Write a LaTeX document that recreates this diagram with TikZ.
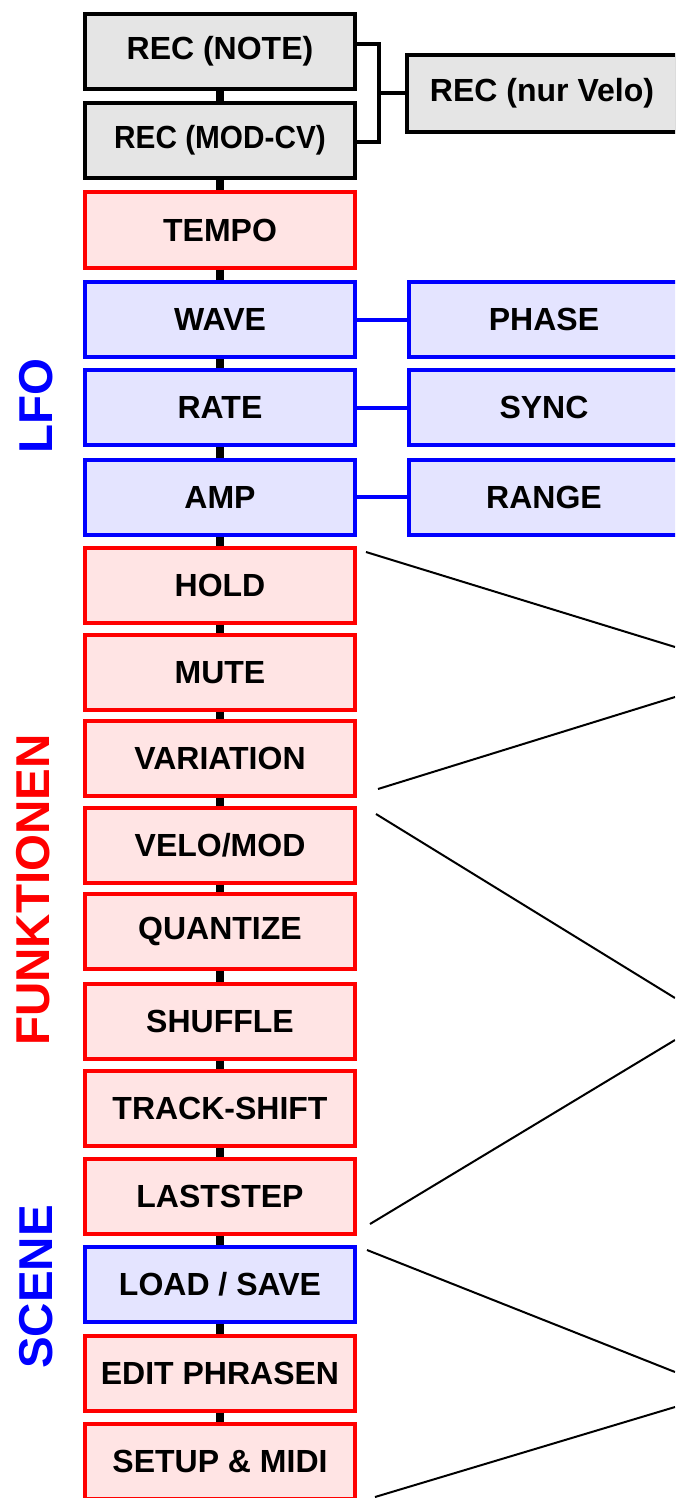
\documentclass[tikz,border=0pt]{standalone}
\usepackage{fontspec}
\setmainfont{Liberation Sans}
\definecolor{menured}{RGB}{255, 0, 0}
\definecolor{menublue}{RGB}{0, 0, 255}
\definecolor{menupink}{RGB}{255, 228, 228}
\definecolor{menulilac}{RGB}{228, 228, 255}
\definecolor{menugray}{RGB}{229, 229, 229}
\usepackage{tikz}

\begin{document}
\begin{tikzpicture}[x=1pt, y=1pt,
    menubox/.style={draw, line width=4pt, rectangle, inner sep=0pt, minimum width=270pt, minimum height=75pt, font=\fontsize{32}{32}\selectfont\bfseries},
    recbox/.style={menubox, draw=black, fill=menugray},
    redbox/.style={menubox, draw=menured, fill=menupink},
    bluebox/.style={menubox, draw=menublue, fill=menulilac},
    chain/.style={line width=8pt, black},
    side/.style={line width=4pt},
    jump/.style={line width=2pt, black},
    grouplabel/.style={rotate=90, inner sep=0pt, font=\fontsize{47.5}{47.5}\selectfont\bfseries}]
            \useasboundingbox (0,0) rectangle (675,-1498);
            \clip (0,0) rectangle (675,-1498);
            % main column
            \node[recbox] (note) at (220,-51.5) {REC (NOTE)};
            \node[recbox] (modcv) at (220,-140.5) {\scalebox{0.93}[1]{REC (MOD-CV)}};
            \node[redbox] (tempo) at (220,-230) {TEMPO};
            \node[bluebox] (wave) at (220,-319.5) {WAVE};
            \node[bluebox] (rate) at (220,-407.5) {RATE};
            \node[bluebox] (amp) at (220,-497) {AMP};
            \node[redbox] (hold) at (220,-585) {HOLD};
            \node[redbox] (mute) at (220,-672.5) {MUTE};
            \node[redbox] (variation) at (220,-758.5) {VARIATION};
            \node[redbox] (velomod) at (220,-845) {VELO/MOD};
            \node[redbox] (quantize) at (220,-931.5) {QUANTIZE};
            \node[redbox] (shuffle) at (220,-1021) {SHUFFLE};
            \node[redbox] (trackshift) at (220,-1108.5) {TRACK-SHIFT};
            \node[redbox] (laststep) at (220,-1196.5) {LASTSTEP};
            \node[bluebox] (loadsave) at (220,-1284.5) {LOAD / SAVE};
            \node[redbox] (phrasen) at (220,-1373) {EDIT PHRASEN};
            \node[redbox] (setup) at (220,-1461) {SETUP \& MIDI};
            \draw[chain] (note) -- (modcv);
            \draw[chain] (modcv) -- (tempo);
            \draw[chain] (tempo) -- (wave);
            \draw[chain] (wave) -- (rate);
            \draw[chain] (rate) -- (amp);
            \draw[chain] (amp) -- (hold);
            \draw[chain] (hold) -- (mute);
            \draw[chain] (mute) -- (variation);
            \draw[chain] (variation) -- (velomod);
            \draw[chain] (velomod) -- (quantize);
            \draw[chain] (quantize) -- (shuffle);
            \draw[chain] (shuffle) -- (trackshift);
            \draw[chain] (trackshift) -- (laststep);
            \draw[chain] (laststep) -- (loadsave);
            \draw[chain] (loadsave) -- (phrasen);
            \draw[chain] (phrasen) -- (setup);
            % second column
            \node[recbox, minimum height=77pt] (velo) at (542,-93.5) {REC (nur Velo)};
            \node[bluebox] (phase) at (544,-319.5) {PHASE};
            \node[bluebox] (sync) at (544,-407.5) {SYNC};
            \node[bluebox] (range) at (544,-497) {RANGE};
            \draw[side] ([yshift=7pt]note.east) -- ++(22,0) coordinate (fork) |- ([yshift=-2pt]modcv.east);
            \draw[side] (fork |- velo.west) -- (velo.west);
            \draw[side, menublue] (wave) -- (phase);
            \draw[side, menublue] (rate) -- (sync);
            \draw[side, menublue] (amp) -- (range);
            % jumps to the next page
            \coordinate (holdout) at (366,-552);
            \coordinate (holdend) at (675,-647);
            \coordinate (varout) at (378,-789);
            \coordinate (varend) at (675,-697);
            \coordinate (veloout) at (376,-814);
            \coordinate (veloend) at (675,-998);
            \coordinate (lastout) at (370,-1224);
            \coordinate (lastend) at (675,-1040);
            \coordinate (loadout) at (367,-1250);
            \coordinate (loadend) at (675,-1372);
            \coordinate (setupout) at (375,-1497);
            \coordinate (setupend) at (675,-1407);
            \draw[jump] (holdout) -- (holdend);
            \draw[jump] (varout) -- (varend);
            \draw[jump] (veloout) -- (veloend);
            \draw[jump] (lastout) -- (lastend);
            \draw[jump] (loadout) -- (loadend);
            \draw[jump] (setupout) -- (setupend);
            % group labels
            \node[grouplabel, text=menublue] (lfo) at (36,-406) {LFO};
            \node[grouplabel, text=menured] (funktionen) at (33,-890) {FUNKTIONEN};
            \node[grouplabel, text=menublue] (scene) at (36,-1287) {SCENE};
        \end{tikzpicture}
\end{document}
